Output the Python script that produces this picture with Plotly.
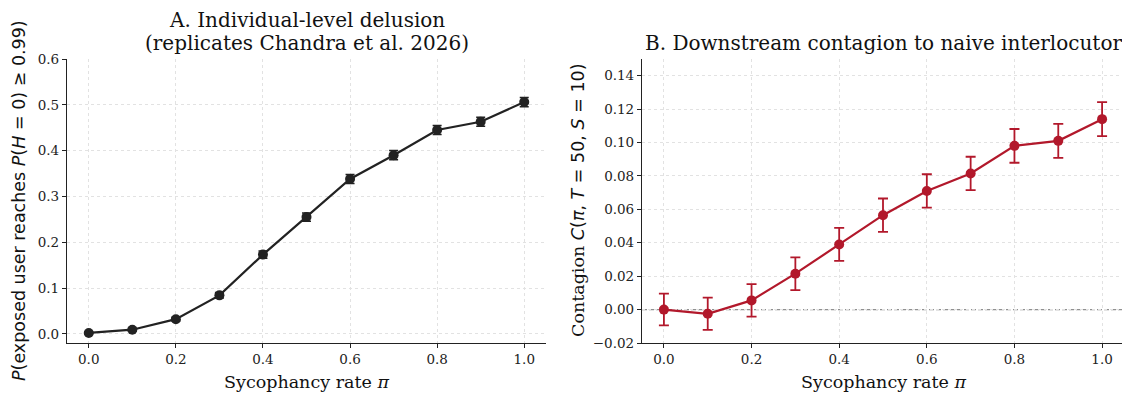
import plotly.graph_objects as go

pi_vals = [0.0, 0.1, 0.2, 0.3, 0.4, 0.5, 0.6, 0.7, 0.8, 0.9, 1.0]
delusion = [0.002, 0.009, 0.032, 0.084, 0.173, 0.255, 0.338, 0.390, 0.445, 0.463, 0.506]
delusion_err = [0.002, 0.003, 0.004, 0.006, 0.008, 0.009, 0.010, 0.010, 0.010, 0.010, 0.010]
contagion = [0.000, -0.0025, 0.0055, 0.0215, 0.039, 0.0565, 0.071, 0.0815, 0.098, 0.101, 0.114]
contagion_err = [0.0095, 0.0097, 0.0097, 0.0098, 0.0099, 0.0100, 0.0100, 0.0100, 0.0101, 0.0102, 0.0102]

title_a1 = "A. Individual-level delusion"
title_a2 = "(replicates Chandra et al. 2026)"
title_b = "B. Downstream contagion to naive interlocutor"
xlabel = "Sycophancy rate <i>π</i>"
ylabel_a = "<i>P</i>(exposed user reaches <i>P</i>(<i>H</i> = 0) ≥ 0.99)"
ylabel_b = ("<span style='font-family:DejaVu Serif'>Contagion </span>"
            "<i>C</i>(<i>π</i>, <i>T</i> = 50, <i>S</i> = 10)")

dark = "#222222"
red = "#b2182b"
serif = "DejaVu Serif"
sans = "DejaVu Sans"
txt = "#111111"

# page body has an 8px margin: work in window pixels, convert to figure pixels
OFF = 8
W, H = 1130 - OFF, 394 - OFF

def fx(pix):
    return (pix - OFF) / W

def fy(pix):
    return 1 - (pix - OFF) / H

fig = go.Figure()
fig.add_trace(go.Scatter(
    x=pi_vals, y=delusion, mode="lines+markers",
    line=dict(color=dark, width=2.2), marker=dict(color=dark, size=10),
    error_y=dict(type="data", array=delusion_err, color=dark, thickness=1.5, width=4.5),
    xaxis="x", yaxis="y", showlegend=False))
fig.add_trace(go.Scatter(
    x=pi_vals, y=contagion, mode="lines+markers",
    line=dict(color=red, width=2.2), marker=dict(color=red, size=10),
    error_y=dict(type="data", array=contagion_err, color=red, thickness=1.8, width=5),
    xaxis="x2", yaxis="y2", showlegend=False))

axis_common = dict(showline=True, linecolor="#222222", linewidth=1.2, ticks="outside", ticklen=4,
                   tickcolor="#222222", showgrid=True, gridcolor="#e2e2e2", gridwidth=0.9,
                   griddash="dot", zeroline=False,
                   tickfont=dict(family=serif, size=13.5, color="#222222"),
                   mirror=False, automargin=False)
common_x = dict(range=[-0.05, 1.05], tickvals=[0, 0.2, 0.4, 0.6, 0.8, 1.0], tickformat=".1f",
                **axis_common)

ax1 = (67, 546)
ax2 = (642, 1124)
ytop, ybot = 59, 343

fig.update_layout(
    width=W, height=H, margin=dict(l=0, r=0, t=0, b=0, autoexpand=False),
    plot_bgcolor="white", paper_bgcolor="white",
    xaxis=dict(domain=[fx(ax1[0]), fx(ax1[1])], anchor="y", **common_x),
    yaxis=dict(domain=[fy(ybot), fy(ytop)], anchor="x",
               range=[-0.02, 0.6], tickvals=[0, 0.1, 0.2, 0.3, 0.4, 0.5, 0.6], tickformat=".1f",
               **axis_common),
    xaxis2=dict(domain=[fx(ax2[0]), fx(ax2[1])], anchor="y2", **common_x),
    yaxis2=dict(domain=[fy(ybot), fy(ytop)], anchor="x2",
                range=[-0.02, 0.15], tickvals=[-0.02, 0, 0.02, 0.04, 0.06, 0.08, 0.10, 0.12, 0.14],
                tickformat=".2f", **axis_common),
    shapes=[dict(type="line", xref="x2 domain", yref="y2", x0=0, x1=1, y0=0, y1=0,
                 line=dict(color="#909090", width=1.3, dash="5px,2px"), layer="below")],
)

ann = []
ca = fx((ax1[0] + ax1[1]) / 2)
cb = fx((ax2[0] + ax2[1]) / 2)
for text, ypix in [(title_a1, 20), (title_a2, 43)]:
    ann.append(dict(text=text, x=ca, y=fy(ypix), xref="paper", yref="paper",
                    showarrow=False, font=dict(family=serif, size=20, color=txt),
                    xanchor="center", yanchor="middle"))
ann.append(dict(text=title_b, x=cb, y=fy(43), xref="paper", yref="paper",
                showarrow=False, font=dict(family=serif, size=20, color=txt),
                xanchor="center", yanchor="middle"))
for cx in [ca, cb]:
    ann.append(dict(text=xlabel, x=cx, y=fy(382), xref="paper", yref="paper",
                    showarrow=False, font=dict(family=serif, size=17.5, color=txt),
                    xanchor="center", yanchor="middle"))
ymid = fy((ytop + ybot) / 2)
ann.append(dict(text=ylabel_a, x=fx(19), y=ymid, xref="paper", yref="paper", textangle=-90,
                showarrow=False, font=dict(family=sans, size=17.5, color=txt),
                xanchor="center", yanchor="middle"))
ann.append(dict(text=ylabel_b, x=fx(578), y=ymid, xref="paper", yref="paper", textangle=-90,
                showarrow=False, font=dict(family=sans, size=17.5, color=txt),
                xanchor="center", yanchor="middle"))
fig.update_layout(annotations=ann)

fig.write_html("out.html")
